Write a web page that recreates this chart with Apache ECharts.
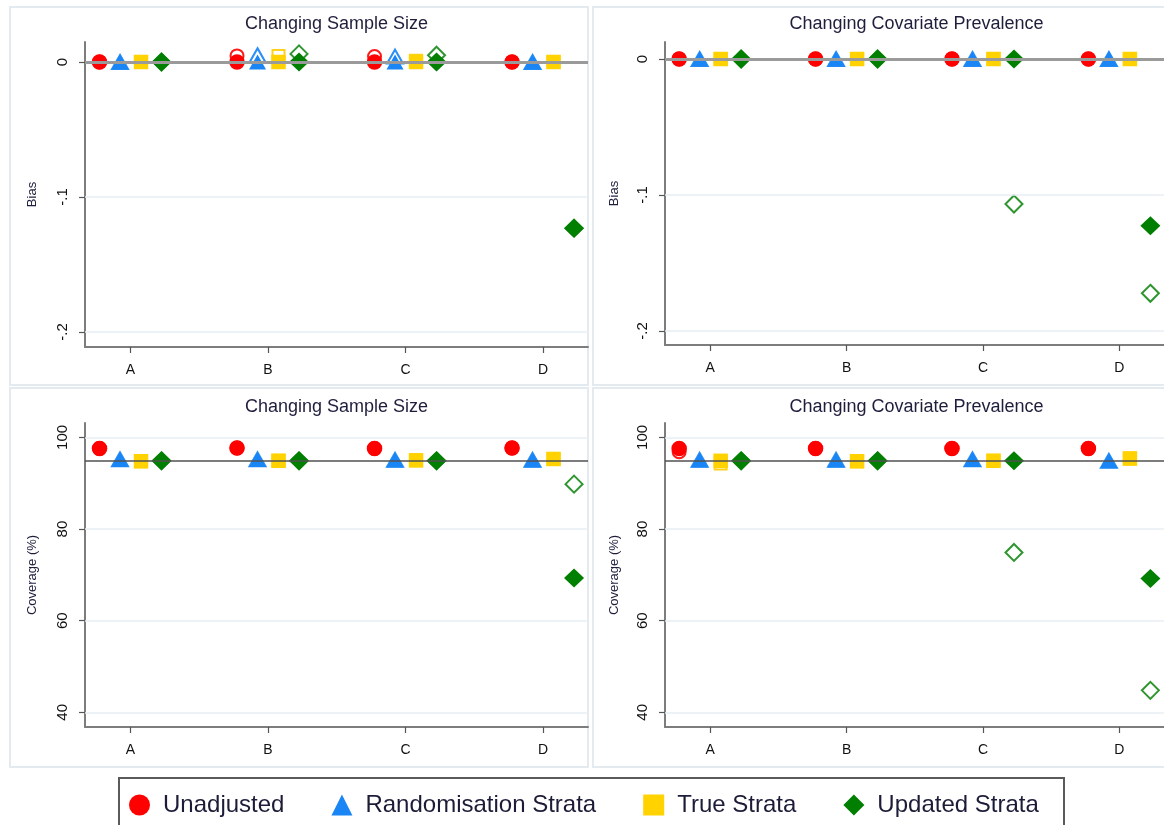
<!DOCTYPE html>
<html>
<head>
<meta charset="utf-8">
<script src="https://cdn.jsdelivr.net/npm/echarts@6/dist/echarts.min.js"></script>
<style>
  html, body { margin: 0; padding: 0; background: #ffffff; }
  #chart { width: 1164px; height: 825px; }
</style>
</head>
<body>
<div id="chart"></div>
<script>
// Scenario labels on the x axis
const categories = ['A', 'B', 'C', 'D'];
// Analysis methods (one marker shape each)
const seriesNames = ['Unadjusted', 'Randomisation Strata', 'True Strata', 'Updated Strata'];

// Axis ticks and reference lines
const biasTicks = [0, -0.1, -0.2];
const coverageTicks = [40, 60, 80, 100];
const biasReference = 0;
const coverageReference = 95;

// Rows follow seriesNames, columns follow categories.
// "Solid" = filled markers, "Hollow" = outlined markers.
const biasSizeSolid = [
  [0, 0, 0, 0],
  [0, 0, 0, 0],
  [0, 0, 0, 0],
  [0, 0, 0, -0.1231]
];
const biasSizeHollow = [
  [0, 0.0045, 0.004, 0],
  [0, 0.005, 0.004, 0],
  [0, 0.0045, 0.001, 0],
  [0, 0.006, 0.005, -0.1231]
];
const biasPrevSolid = [
  [0, 0, 0, 0],
  [0, 0, 0, 0],
  [0, 0, 0, 0],
  [0, 0, 0, -0.1226]
];
const biasPrevHollow = [
  [0, 0, 0, 0],
  [0, 0, 0, 0],
  [0, 0, 0, 0],
  [0, 0, -0.1066, -0.1723]
];
const coverSizeSolid = [
  [97.6, 97.7, 97.6, 97.7],
  [95.2, 95.2, 95.1, 95.1],
  [94.8, 94.9, 95.0, 95.3],
  [94.9, 94.9, 94.9, 69.3]
];
const coverSizeHollow = [
  [97.6, 97.7, 97.6, 97.7],
  [95.2, 95.2, 95.1, 95.1],
  [94.8, 94.9, 95.0, 95.3],
  [94.9, 94.9, 94.9, 89.8]
];
const coverPrevSolid = [
  [97.6, 97.6, 97.6, 97.6],
  [95.1, 95.1, 95.2, 94.9],
  [94.9, 94.8, 94.9, 95.4],
  [94.9, 94.9, 94.9, 69.2]
];
const coverPrevHollow = [
  [96.9, 97.6, 97.6, 97.6],
  [95.1, 95.1, 95.2, 94.9],
  [94.3, 94.8, 94.9, 95.4],
  [94.9, 94.9, 74.9, 44.8]
];

const FONT = '"Liberation Sans", Arial, sans-serif';
const colors = ['#ff0000', '#1a86f5', '#ffd200', '#007f00'];
const hollowColors = ['#ff1a1a', '#2a8ff7', '#ffd21a', '#2f952f'];
const symbols = ['circle', 'triangle', 'rect', 'diamond'];
const solidSizes = [15.5, [17, 15], 14.5, [20, 19]];
const hollowSizes = [13, [16, 14], 12, [17, 17]];
const dodge = [-31, -10.5, 10.5, 31];

const fmtBias = v => (v === 0 ? '0' : String(+v.toFixed(2)).replace('0.', '.'));
const fmtCover = v => String(v);

const panels = [
  { grid: { left: 85, top: 42, width: 503, height: 305 }, yMin: -0.2111, yMax: 0.0148,
    ticks: biasTicks, ref: biasReference, refStyle: { color: '#9a9a9a', width: 3 },
    title: 'Changing Sample Size', titleTop: 10, yName: 'Bias', nameGap: 46, fmt: fmtBias,
    solid: biasSizeSolid, hollow: biasSizeHollow },
  { grid: { left: 665, top: 42, width: 503, height: 303 }, yMin: -0.2103, yMax: 0.0125,
    ticks: biasTicks, ref: biasReference, refStyle: { color: '#9a9a9a', width: 3 },
    title: 'Changing Covariate Prevalence', titleTop: 10, yName: 'Bias', nameGap: 44, fmt: fmtBias,
    solid: biasPrevSolid, hollow: biasPrevHollow },
  { grid: { left: 85, top: 423, width: 503, height: 304 }, yMin: 36.8, yMax: 103.15,
    ticks: coverageTicks, ref: coverageReference, refStyle: { color: '#505050', width: 1.5 },
    title: 'Changing Sample Size', titleTop: 393, yName: 'Coverage (%)', nameGap: 46, fmt: fmtCover,
    solid: coverSizeSolid, hollow: coverSizeHollow },
  { grid: { left: 665, top: 423, width: 503, height: 304 }, yMin: 36.8, yMax: 103.15,
    ticks: coverageTicks, ref: coverageReference, refStyle: { color: '#505050', width: 1.5 },
    title: 'Changing Covariate Prevalence', titleTop: 393, yName: 'Coverage (%)', nameGap: 44, fmt: fmtCover,
    solid: coverPrevSolid, hollow: coverPrevHollow }
];

const catPositions = categories.map((c, i) => i + 1);

const grids = [], xAxes = [], yAxes = [], titles = [], series = [];

panels.forEach((p, k) => {
  grids.push(Object.assign({ containLabel: false }, p.grid));
  titles.push({
    text: p.title,
    left: p.grid.left + p.grid.width / 2 - 5,
    top: p.titleTop,
    textAlign: 'center',
    textStyle: { fontFamily: FONT, fontSize: 18, fontWeight: 'normal', color: '#1e1e3c' }
  });
  xAxes.push({
    type: 'value', gridIndex: k, min: 0.669, max: 4.327,
    axisLine: { show: true, onZero: false, lineStyle: { color: '#7d7d7d', width: 2 } },
    axisTick: { show: true, customValues: catPositions, length: 6, lineStyle: { color: '#555', width: 1.2 } },
    axisLabel: { customValues: catPositions, formatter: v => categories[Math.round(v) - 1],
      fontFamily: FONT, fontSize: 14, color: '#111', margin: 16 },
    splitLine: { show: false }
  });
  yAxes.push({
    type: 'value', gridIndex: k, min: p.yMin, max: p.yMax,
    name: p.yName, nameLocation: 'middle', nameGap: p.nameGap, nameRotate: 90,
    nameTextStyle: { fontFamily: FONT, fontSize: 13, color: '#1e1e3c' },
    axisLine: { show: true, onZero: false, lineStyle: { color: '#7d7d7d', width: 2 } },
    axisTick: { show: true, customValues: p.ticks, length: 6, lineStyle: { color: '#555', width: 1.2 } },
    axisLabel: { customValues: p.ticks, formatter: p.fmt, rotate: 90,
      fontFamily: FONT, fontSize: 15, color: '#111', margin: 15 },
    splitLine: { show: false }
  });

  // gridlines and the reference line
  series.push({
    type: 'scatter', xAxisIndex: k, yAxisIndex: k, data: [], silent: true, z: 1,
    markLine: {
      silent: true, symbol: 'none', animation: false, label: { show: false },
      data: p.ticks.map(t => ({ yAxis: t, lineStyle: { color: '#e7eef3', width: 1.5, type: 'solid' } }))
        .concat([{ yAxis: p.ref, lineStyle: Object.assign({ type: 'solid' }, p.refStyle) }])
    }
  });

  seriesNames.forEach((name, s) => {
    series.push({
      name: name + ' (alt)', type: 'scatter', xAxisIndex: k, yAxisIndex: k, z: 3,
      symbol: symbols[s], symbolSize: hollowSizes[s], symbolOffset: [dodge[s], 0],
      itemStyle: { color: 'rgba(255,255,255,0)', borderColor: hollowColors[s], borderWidth: 2, opacity: 1 },
      data: catPositions.map((x, i) => [x, p.hollow[s][i]])
    });
  });
  seriesNames.forEach((name, s) => {
    series.push({
      name: name, type: 'scatter', xAxisIndex: k, yAxisIndex: k, z: 4,
      symbol: symbols[s], symbolSize: solidSizes[s], symbolOffset: [dodge[s], 0],
      itemStyle: { color: colors[s], opacity: 1 },
      data: catPositions.map((x, i) => [x, p.solid[s][i]])
    });
  });
});

const option = {
  animation: false,
  backgroundColor: '#ffffff',
  textStyle: { fontFamily: FONT },
  title: titles,
  grid: grids,
  xAxis: xAxes,
  yAxis: yAxes,
  legend: {
    data: seriesNames.map((n, s) => ({ name: n, icon: symbols[s] })),
    left: 124, top: 788,
    itemWidth: 21, itemHeight: 21, itemGap: 47,
    selectedMode: false,
    textStyle: { fontFamily: FONT, fontSize: 24, color: '#1c1c38', padding: [0, 0, 0, 8] }
  },
  graphic: [
    { type: 'rect', z: -10, shape: { x: 10, y: 7, width: 578, height: 378 }, style: { fill: '#fff', stroke: '#e3ebf1', lineWidth: 2 } },
    { type: 'rect', z: -10, shape: { x: 593, y: 7, width: 600, height: 378 }, style: { fill: '#fff', stroke: '#e3ebf1', lineWidth: 2 } },
    { type: 'rect', z: -10, shape: { x: 10, y: 388, width: 578, height: 379 }, style: { fill: '#fff', stroke: '#e3ebf1', lineWidth: 2 } },
    { type: 'rect', z: -10, shape: { x: 593, y: 388, width: 600, height: 379 }, style: { fill: '#fff', stroke: '#e3ebf1', lineWidth: 2 } },
    { type: 'rect', z: -10, shape: { x: 119, y: 778, width: 945, height: 70 }, style: { fill: '#fff', stroke: '#5a5a5a', lineWidth: 2 } }
  ],
  series: series
};

const chart = echarts.init(document.getElementById('chart'), null, { renderer: 'canvas' });
chart.setOption(option);
</script>
</body>
</html>
